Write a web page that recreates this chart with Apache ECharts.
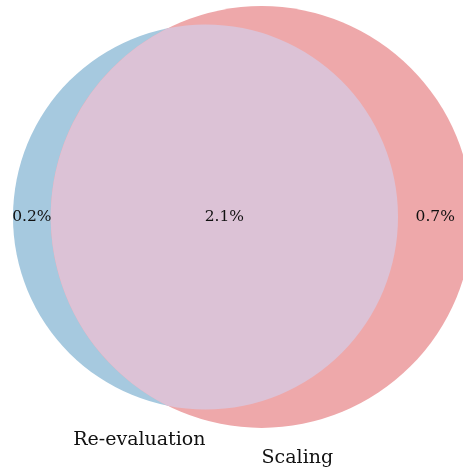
<!DOCTYPE html>
<html>
<head>
<meta charset="utf-8">
<script src="https://cdn.jsdelivr.net/npm/echarts@6/dist/echarts.min.js"></script>
<style>
  html, body { margin: 0; padding: 0; background: #fff; }
  #main { width: 463px; height: 470px; }
</style>
</head>
<body>
<div id="main"></div>
<script>
// set names and region values in percent (A only, B only, A and B)
const setNames = ['Re-evaluation', 'Scaling'];
const regionValues = [0.24, 0.70, 2.06];
const regionLabels = regionValues.map(v => v.toFixed(1) + '%');
const setColors = ['#a6c9df', '#eea8aa'];
const overlapColor = '#dcc2d6';

// circle areas are proportional to set sizes
const areaA = regionValues[0] + regionValues[2];
const areaB = regionValues[1] + regionValues[2];
const rA = Math.sqrt(areaA / Math.PI);
const rB = Math.sqrt(areaB / Math.PI);

function lensArea(d, r1, r2) {
  if (d >= r1 + r2) return 0;
  if (d <= Math.abs(r1 - r2)) return Math.PI * Math.min(r1, r2) ** 2;
  const a1 = Math.acos((d * d + r1 * r1 - r2 * r2) / (2 * d * r1));
  const a2 = Math.acos((d * d + r2 * r2 - r1 * r1) / (2 * d * r2));
  return r1 * r1 * (a1 - Math.sin(2 * a1) / 2) + r2 * r2 * (a2 - Math.sin(2 * a2) / 2);
}

// distance between centres so the overlap has the right area
let lo = Math.abs(rA - rB), hi = rA + rB;
for (let i = 0; i < 100; i++) {
  const mid = (lo + hi) / 2;
  if (lensArea(mid, rA, rB) > regionValues[2]) lo = mid; else hi = mid;
}
const dist = (lo + hi) / 2;

const pxPerUnit = 225;
const origin = [205.5, 217];
const W = 463, H = 470;

const myChart = echarts.init(document.getElementById('main'));
const font = '"DejaVu Serif", serif';

myChart.setOption({
  animation: false,
  grid: {left: 0, right: 0, top: 0, bottom: 0},
  xAxis: {type: 'value', min: -origin[0] / pxPerUnit, max: (W - origin[0]) / pxPerUnit, show: false},
  yAxis: {type: 'value', min: -(H - origin[1]) / pxPerUnit, max: origin[1] / pxPerUnit, show: false},
  series: [
    {
      // the two circles, blue then red on top
      type: 'custom',
      silent: true,
      data: [[0, 0, rA, 0], [dist, 0, rB, 1]],
      renderItem: function (params, api) {
        const c = api.coord([api.value(0), api.value(1)]);
        const r = api.size([api.value(2), 0])[0];
        return {
          type: 'circle',
          shape: {cx: c[0], cy: c[1], r: r},
          style: {fill: setColors[api.value(3)]}
        };
      }
    },
    {
      // overlap lens
      type: 'custom',
      silent: true,
      data: [[0, 0, rA, dist, rB]],
      renderItem: function (params, api) {
        const ca = api.coord([0, 0]);
        const cb = api.coord([api.value(3), 0]);
        const ra = api.size([api.value(2), 0])[0];
        const rb = api.size([api.value(4), 0])[0];
        const d = cb[0] - ca[0];
        const xi = (d * d + ra * ra - rb * rb) / (2 * d);
        const h = Math.sqrt(ra * ra - xi * xi);
        const p1 = [ca[0] + xi, ca[1] - h];
        const p2 = [ca[0] + xi, ca[1] + h];
        const bigA = xi < 0 ? 1 : 0;
        const bigB = (d - xi) < 0 ? 1 : 0;
        const path = 'M' + p1[0] + ' ' + p1[1] +
          ' A' + ra + ' ' + ra + ' 0 ' + bigA + ' 1 ' + p2[0] + ' ' + p2[1] +
          ' A' + rb + ' ' + rb + ' 0 ' + bigB + ' 1 ' + p1[0] + ' ' + p1[1] + ' Z';
        return {
          type: 'path',
          shape: {pathData: path},
          style: {fill: overlapColor}
        };
      }
    },
    {
      // region labels, centred in each region along the centre line
      type: 'custom',
      silent: true,
      data: [
        [(-rA + dist - rB) / 2, 0, 0],
        [(rA + dist + rB) / 2, 0, 1],
        [(dist - rB + rA) / 2, 0, 2]
      ],
      renderItem: function (params, api) {
        const p = api.coord([api.value(0), api.value(1)]);
        return {
          type: 'text',
          x: p[0], y: p[1],
          style: {
            text: regionLabels[api.value(2)],
            font: '15.5px ' + font,
            fill: '#111',
            align: 'center',
            verticalAlign: 'middle'
          }
        };
      }
    },
    {
      // set labels under each circle
      type: 'custom',
      silent: true,
      data: [[0, -rA, 0], [dist, -rB, 1]],
      renderItem: function (params, api) {
        const p = api.coord([api.value(0), api.value(1)]);
        const i = api.value(2);
        return {
          type: 'text',
          x: p[0], y: p[1] + 21,
          style: {
            text: setNames[i],
            font: '19px ' + font,
            fill: '#111',
            align: i === 0 ? 'right' : 'left',
            verticalAlign: 'top'
          }
        };
      }
    }
  ]
});
</script>
</body>
</html>
